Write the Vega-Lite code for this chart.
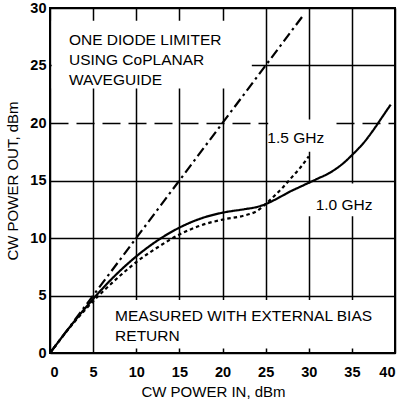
{
  "$schema": "https://vega.github.io/schema/vega-lite/v6.json",
  "width": 345,
  "height": 345,
  "autosize": "none",
  "padding": {"left": 50, "top": 8, "right": 11, "bottom": 51},
  "background": "white",
  "config": {
    "font": "Liberation Sans",
    "view": {"stroke": "black", "strokeWidth": 2},
    "axis": {
      "domain": false,
      "ticks": false,
      "tickSize": 0,
      "grid": true,
      "gridColor": "black",
      "gridWidth": 1.5,
      "gridOpacity": 1,
      "labelColor": "black",
      "labelFontSize": 14.5,
      "labelFontWeight": "bold",
      "titleColor": "black",
      "titleFontSize": 15,
      "titleFontWeight": "normal"
    }
  },
  "datasets": {
    "curves": [
      {"series": "1.0 GHz", "pin": 0, "pout": 0},
      {"series": "1.0 GHz", "pin": 2.5, "pout": 2.45},
      {"series": "1.0 GHz", "pin": 5, "pout": 4.7},
      {"series": "1.0 GHz", "pin": 7.5, "pout": 6.7},
      {"series": "1.0 GHz", "pin": 10, "pout": 8.4},
      {"series": "1.0 GHz", "pin": 12.5, "pout": 9.8},
      {"series": "1.0 GHz", "pin": 15, "pout": 10.9},
      {"series": "1.0 GHz", "pin": 17.5, "pout": 11.7},
      {"series": "1.0 GHz", "pin": 20, "pout": 12.2},
      {"series": "1.0 GHz", "pin": 22.5, "pout": 12.5},
      {"series": "1.0 GHz", "pin": 24, "pout": 12.7},
      {"series": "1.0 GHz", "pin": 25, "pout": 12.95},
      {"series": "1.0 GHz", "pin": 26, "pout": 13.3},
      {"series": "1.0 GHz", "pin": 27, "pout": 13.7},
      {"series": "1.0 GHz", "pin": 28, "pout": 14.1},
      {"series": "1.0 GHz", "pin": 29, "pout": 14.45},
      {"series": "1.0 GHz", "pin": 30, "pout": 14.8},
      {"series": "1.0 GHz", "pin": 31, "pout": 15.15},
      {"series": "1.0 GHz", "pin": 32.5, "pout": 15.7},
      {"series": "1.0 GHz", "pin": 34, "pout": 16.5},
      {"series": "1.0 GHz", "pin": 35, "pout": 17.2},
      {"series": "1.0 GHz", "pin": 36.5, "pout": 18.4},
      {"series": "1.0 GHz", "pin": 37.5, "pout": 19.4},
      {"series": "1.0 GHz", "pin": 38.5, "pout": 20.5},
      {"series": "1.0 GHz", "pin": 39.5, "pout": 21.6},
      {"series": "1.5 GHz", "pin": 0, "pout": 0},
      {"series": "1.5 GHz", "pin": 2.5, "pout": 2.4},
      {"series": "1.5 GHz", "pin": 5, "pout": 4.5},
      {"series": "1.5 GHz", "pin": 7.5, "pout": 6.3},
      {"series": "1.5 GHz", "pin": 10, "pout": 7.9},
      {"series": "1.5 GHz", "pin": 12.5, "pout": 9.2},
      {"series": "1.5 GHz", "pin": 15, "pout": 10.3},
      {"series": "1.5 GHz", "pin": 17.5, "pout": 11.1},
      {"series": "1.5 GHz", "pin": 20, "pout": 11.6},
      {"series": "1.5 GHz", "pin": 22.5, "pout": 11.95},
      {"series": "1.5 GHz", "pin": 24, "pout": 12.35},
      {"series": "1.5 GHz", "pin": 25, "pout": 12.95},
      {"series": "1.5 GHz", "pin": 26, "pout": 13.65},
      {"series": "1.5 GHz", "pin": 27, "pout": 14.4},
      {"series": "1.5 GHz", "pin": 28, "pout": 15.25},
      {"series": "1.5 GHz", "pin": 29, "pout": 16.1},
      {"series": "1.5 GHz", "pin": 30, "pout": 17.1},
      {"series": "ideal", "pin": 0, "pout": 0},
      {"series": "ideal", "pin": 29.3, "pout": 29.3}
    ],
    "masks": [
      {"x1": 0.2, "x2": 23.4, "y1": 23.0, "y2": 28.9},
      {"x1": 25.3, "x2": 32.9, "y1": 17.5, "y2": 20.3},
      {"x1": 29.9, "x2": 38.0, "y1": 11.9, "y2": 14.75},
      {"x1": 5.6, "x2": 39.6, "y1": 0.4, "y2": 4.6}
    ],
    "notes": [
      {"pin": 2.2, "pout": 26.8, "label": ["ONE DIODE LIMITER", "USING CoPLANAR", "WAVEGUIDE"]},
      {"pin": 7.55, "pout": 2.8, "label": ["MEASURED WITH EXTERNAL BIAS", "RETURN"]},
      {"pin": 25.2, "pout": 18.3, "label": ["1.5 GHz"]},
      {"pin": 30.8, "pout": 12.4, "label": ["1.0 GHz"]}
    ]
  },
  "encoding": {
    "x": {"type": "quantitative"},
    "y": {"type": "quantitative"}
  },
  "layer": [
    {
      "data": {"name": "masks"},
      "mark": {"type": "rect", "fill": "white", "stroke": null},
      "encoding": {
        "x": {"field": "x1", "type": "quantitative",
          "scale": {"domain": [0, 40], "nice": false},
          "axis": {"values": [0, 5, 10, 15, 20, 25, 30, 35, 40], "title": "CW POWER IN, dBm", "labelPadding": 12, "titlePadding": 6, "titleX": 163}},
        "x2": {"field": "x2"},
        "y": {"field": "y1", "type": "quantitative",
          "scale": {"domain": [0, 30], "nice": false},
          "axis": {"values": [0, 5, 10, 15, 20, 25, 30], "title": "CW POWER OUT, dBm", "labelPadding": 4, "titlePadding": 9,
            "gridDash": {"condition": {"test": "datum.value === 20", "value": [18, 8]}, "value": []}}},
        "y2": {"field": "y2"}
      }
    },
    {
      "data": {"name": "curves"},
      "mark": {"type": "line", "color": "black", "strokeWidth": 2.2, "interpolate": "monotone"},
      "encoding": {
        "x": {"field": "pin", "type": "quantitative"},
        "y": {"field": "pout", "type": "quantitative"},
        "detail": {"field": "series"},
        "strokeDash": {"field": "series", "type": "nominal",
          "scale": {"domain": ["1.0 GHz", "1.5 GHz", "ideal"], "range": [[1, 0], [3.5, 3], [10, 4, 2.5, 4]]},
          "legend": null}
      }
    },
    {
      "data": {"name": "notes"},
      "mark": {"type": "text", "align": "left", "baseline": "alphabetic", "fontSize": 15.5, "lineHeight": 20, "color": "black"},
      "encoding": {
        "x": {"field": "pin", "type": "quantitative"},
        "y": {"field": "pout", "type": "quantitative"},
        "text": {"field": "label"}
      }
    }
  ]
}
